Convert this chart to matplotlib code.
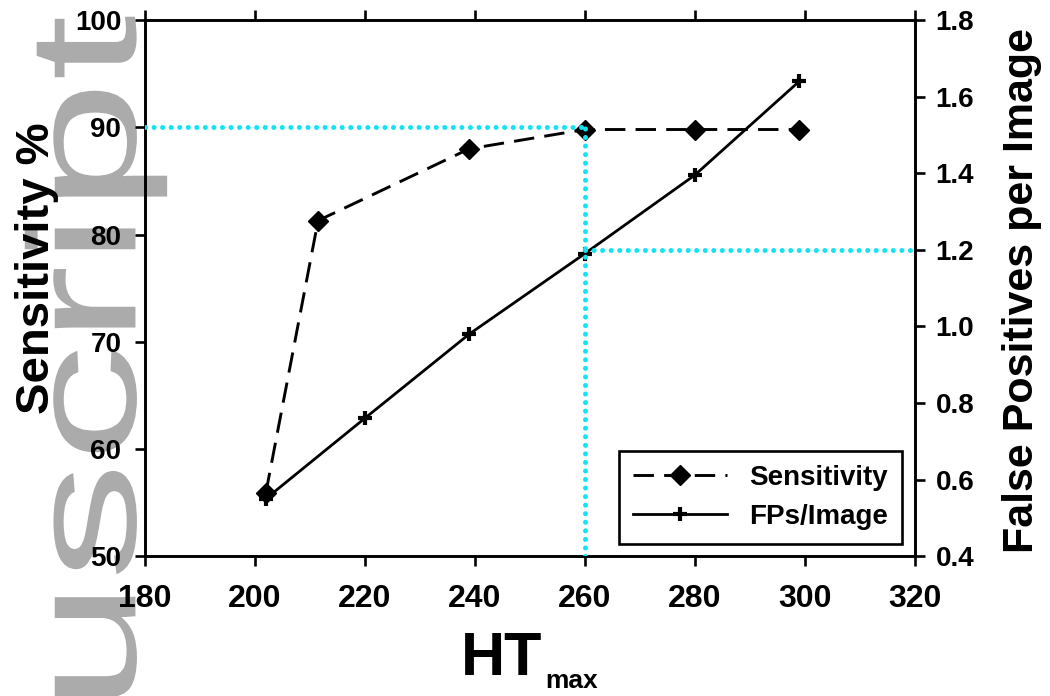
import numpy as np
import matplotlib
matplotlib.use("Agg")
import matplotlib.pyplot as plt
from matplotlib.patheffects import AbstractPathEffect
from matplotlib.transforms import Affine2D

plt.rcParams['font.family'] = ['Liberation Sans', 'DejaVu Sans']
plt.rcParams['font.weight'] = 'bold'

# data
HT_SENS = [202, 211.5, 239, 260, 280, 299]
SENS = [55.9, 81.3, 88.0, 89.8, 89.8, 89.8]
HT_FP = [202, 220, 239, 260, 280, 299]
FP = [0.55, 0.76, 0.98, 1.19, 1.395, 1.64]

X_TICKS = [180, 200, 220, 240, 260, 280, 300, 320]
SENS_TICKS = [50, 60, 70, 80, 90, 100]
FP_TICKS = [0.4, 0.6, 0.8, 1.0, 1.2, 1.4, 1.6, 1.8]

# chosen operating point (cyan guides)
CUT_HT = 260
CUT_SENS = 90
CUT_FP = 1.2

CYAN = '#14E4F2'


class Stretch(AbstractPathEffect):
    """stretch the drawn text vertically (display coords) about y0"""
    def __init__(self, sy, y0):
        super().__init__()
        self.sy = sy
        self.y0 = y0

    def draw_path(self, renderer, gc, tpath, affine, rgbFace=None):
        t = affine + Affine2D().translate(0, -self.y0).scale(1, self.sy).translate(0, self.y0)
        renderer.draw_path(gc, tpath, t, rgbFace)


fig = plt.figure(figsize=(10.5, 6.96), dpi=100)

# "manuscript" watermark, squeezed and long like in the scan
wm_top = 0.978
fig.text(0.129, wm_top, 'nuscript', rotation=90, rotation_mode='anchor',
         ha='right', va='baseline', fontsize=110, color='#ABABAB',
         family='Liberation Sans', fontweight='normal', zorder=-5,
         path_effects=[Stretch(1.55, wm_top * 696)])

ax = fig.add_axes([0.138, 0.201, 0.733, 0.770])
ax2 = ax.twinx()
ax.patch.set_visible(False)
ax2.patch.set_visible(False)

l1, = ax.plot(HT_SENS, SENS, color='k', lw=2.1, ls=(0, (7, 3.5)),
              marker='D', ms=10.5, label='Sensitivity')
l2, = ax2.plot(HT_FP, FP, color='k', lw=2.0, marker='+', ms=10, mew=3,
               label='FPs/Image')

dots = dict(color=CYAN, lw=3.6, ls=(0, (0.01, 1.7)), dash_capstyle='round',
            zorder=5)
ax2.plot([X_TICKS[0], CUT_HT], [CUT_SENS, CUT_SENS], transform=ax.transData, **dots)
ax2.plot([CUT_HT, CUT_HT], [SENS_TICKS[0], CUT_SENS], transform=ax.transData, **dots)
ax2.plot([CUT_HT, X_TICKS[-1]], [CUT_FP, CUT_FP], **dots)

ax.set_xlim(X_TICKS[0], X_TICKS[-1])
ax.set_ylim(SENS_TICKS[0], SENS_TICKS[-1])
ax2.set_ylim(FP_TICKS[0], FP_TICKS[-1])
ax.set_xticks(X_TICKS)
ax.set_yticks(SENS_TICKS)
ax2.set_yticks(FP_TICKS)
ax2.set_yticklabels(['%.1f' % v for v in FP_TICKS])

for a in (ax, ax2):
    for s in a.spines.values():
        s.set_linewidth(1.9)
ax.tick_params(axis='both', direction='out', length=7, width=1.9,
               labelsize=20, top=True, right=False)
ax.tick_params(axis='y', pad=10)
ax.tick_params(axis='x', pad=13, labelsize=23)
ax2.tick_params(axis='y', direction='out', length=7, width=1.9,
                labelsize=20, pad=8)

fig.text(0.035, 0.615, 'Sensitivity %', rotation=90, ha='center', va='center',
         fontsize=34)
fig.text(0.973, 0.583, 'False Positives per Image', rotation=90, ha='center',
         va='center', fontsize=31)
fig.text(0.516, 0.030, 'HT', ha='right', va='baseline', fontsize=44)
fig.text(0.519, 0.012, 'max', ha='left', va='baseline', fontsize=19)

leg = ax2.legend([l1, l2], ['Sensitivity', 'FPs/Image'], loc='lower right',
                 numpoints=1, fancybox=False, framealpha=1, edgecolor='k',
                 prop={'size': 20, 'weight': 'bold'}, handlelength=3.4,
                 handletextpad=0.8, labelspacing=0.45, borderpad=0.5,
                 borderaxespad=0.45)
leg.get_frame().set_linewidth(1.9)

fig.savefig('out.png', dpi=100)
